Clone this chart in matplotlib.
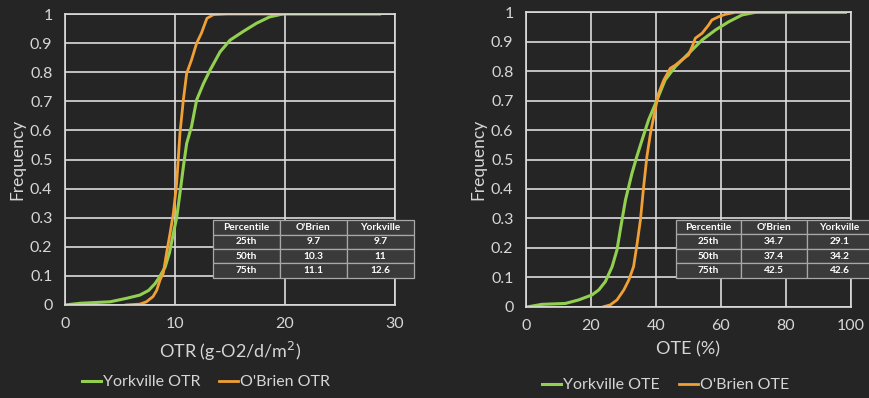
import matplotlib.pyplot as plt

# datos (curvas acumuladas)
otr_york_x = [0, 1.4, 4.1, 5.6, 6.8, 7.6, 8.2, 8.6, 9.1, 9.5, 9.85, 10.15, 10.45, 10.76, 11.06,
              11.5, 11.97, 12.6, 13.2, 14.1, 15.0, 16.2, 17.4, 18.6, 19.8, 28.6]
otr_york_y = [0, 0.006, 0.011, 0.023, 0.034, 0.05, 0.074, 0.097, 0.13, 0.18, 0.246, 0.30, 0.384,
              0.475, 0.555, 0.613, 0.705, 0.762, 0.808, 0.87, 0.91, 0.94, 0.968, 0.99, 1.0, 1.0]

otr_obr_x = [5.55, 6.8, 7.4, 8.0, 8.33, 8.64, 8.94, 9.24, 9.55, 9.85, 10.15, 10.45, 10.76,
             11.06, 11.5, 11.97, 12.4, 12.9, 13.5, 14.7, 19.8]
otr_obr_y = [0, 0.003, 0.011, 0.029, 0.05, 0.086, 0.11, 0.18, 0.246, 0.315, 0.418, 0.59, 0.705,
             0.796, 0.842, 0.90, 0.934, 0.985, 0.998, 1.0, 1.0]

ote_york_x = [0.8, 4.9, 12.1, 16.2, 20.3, 22.4, 24.4, 26.5, 28.0, 29.0, 30.6, 32.6, 34.1, 35.7,
              37.7, 40.3, 42.8, 45.9, 50.0, 54.2, 58.3, 62.4, 66.5, 70.6, 98.3]
ote_york_y = [0, 0.008, 0.011, 0.023, 0.04, 0.057, 0.085, 0.136, 0.193, 0.26, 0.362, 0.453,
              0.51, 0.566, 0.634, 0.702, 0.77, 0.815, 0.86, 0.906, 0.94, 0.968, 0.991, 1.0, 1.0]

ote_obr_x = [23.9, 25.9, 28.0, 30.1, 31.6, 33.1, 34.2, 35.2, 36.2, 37.2, 38.3, 39.3, 40.8, 42.4,
             44.4, 45.9, 47.9, 50.0, 51.1, 52.1, 54.2, 56.2, 57.2, 59.3, 61.3, 64.4, 70.6]
ote_obr_y = [0, 0.006, 0.023, 0.057, 0.09, 0.136, 0.215, 0.294, 0.408, 0.51, 0.589, 0.645,
             0.725, 0.77, 0.81, 0.82, 0.838, 0.855, 0.883, 0.912, 0.929, 0.957, 0.974, 0.985,
             0.993, 1.0, 1.0]

# tablas de percentiles
col_labels = ["Percentile", "O'Brien", "Yorkville"]
percentiles = ["25th", "50th", "75th"]
otr_obr_pct = ["9.7", "10.3", "11.1"]
otr_york_pct = ["9.7", "11", "12.6"]
ote_obr_pct = ["34.7", "37.4", "42.5"]
ote_york_pct = ["29.1", "34.2", "42.6"]

fondo = "#252525"
texto = "#d6d6d6"
verde = "#92d050"
naranja = "#f0a035"

plt.rcParams["font.family"] = ["Lato", "DejaVu Sans"]

fig = plt.figure(figsize=(8.7, 3.98), dpi=100, facecolor=fondo)
W, H = 870, 398
ax1 = fig.add_axes([65 / W, 1 - 305 / H, 330 / W, 291 / H])
ax2 = fig.add_axes([526 / W, 1 - 306.7 / H, 325 / W, 294.4 / H])


def armar_eje(ax, xmax, xstep, xlabel):
    ax.set_facecolor(fondo)
    ax.set_xlim(0, xmax)
    ax.set_ylim(0, 1)
    ax.set_xticks(range(0, xmax + 1, xstep))
    ax.set_yticks([i / 10 for i in range(11)])
    ax.set_yticklabels(["0"] + [f"{i / 10:.1f}" for i in range(1, 10)] + ["1"])
    ax.grid(True, color="#dcdcdc", linewidth=1.2)
    ax.set_axisbelow(True)
    for s in ax.spines.values():
        s.set_color("#dcdcdc")
        s.set_linewidth(1.2)
    ax.tick_params(length=0, pad=9, colors=texto, labelsize=11.5)
    ax.set_xlabel(xlabel, color=texto, fontsize=13, labelpad=6)
    ax.set_ylabel("Frequency", color=texto, fontsize=12.5, labelpad=3)


def tabla(ax, obr, york, bbox):
    celdas = [[p, o, y] for p, o, y in zip(percentiles, obr, york)]
    t = ax.table(cellText=celdas, colLabels=col_labels, bbox=bbox, cellLoc="center")
    t.auto_set_font_size(False)
    t.set_fontsize(7.3)
    t.set_clip_on(False)
    t.set_zorder(5)
    for (r, c), cell in t.get_celld().items():
        cell.set_facecolor("#3a3a3a")
        cell.set_edgecolor("#a8a8a8")
        cell.set_linewidth(0.9)
        cell.set_clip_on(False)
        cell.get_text().set_color("white")
        cell.get_text().set_fontweight("bold")


armar_eje(ax1, 30, 10, "OTR (g-O2/d/m$^2$)")
ax1.plot(otr_york_x, otr_york_y, color=verde, linewidth=2.2, label="Yorkville OTR")
ax1.plot(otr_obr_x, otr_obr_y, color=naranja, linewidth=2.0, label="O'Brien OTR")
tabla(ax1, otr_obr_pct, otr_york_pct, [0.4476, 0.093, 0.61, 0.199])
ax1.legend(loc="center", bbox_to_anchor=(0.427, -0.265), ncol=2, frameon=False,
           handlelength=1.2, handletextpad=0.1, columnspacing=1.2, fontsize=11.5,
           labelcolor=texto)

armar_eje(ax2, 100, 20, "OTE (%)")
ax2.plot(ote_york_x, ote_york_y, color=verde, linewidth=2.2, label="Yorkville OTE")
ax2.plot(ote_obr_x, ote_obr_y, color=naranja, linewidth=2.0, label="O'Brien OTE")
tabla(ax2, ote_obr_pct, ote_york_pct, [0.4606, 0.0985, 0.605, 0.196])
ax2.legend(loc="center", bbox_to_anchor=(0.429, -0.266), ncol=2, frameon=False,
           handlelength=1.2, handletextpad=0.1, columnspacing=1.2, fontsize=11.5,
           labelcolor=texto)

plt.savefig("out.png", dpi=100, facecolor=fondo)
